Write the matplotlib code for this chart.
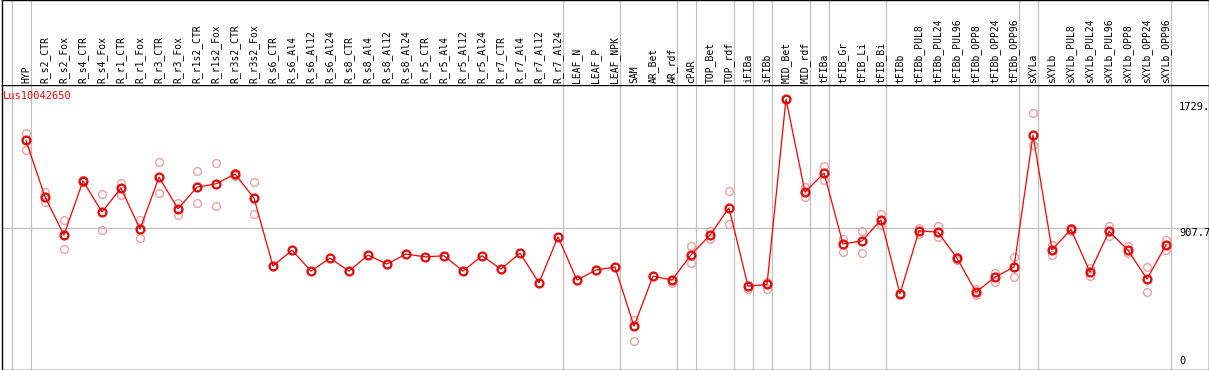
import matplotlib
matplotlib.use("Agg")
import matplotlib.pyplot as plt
import matplotlib.transforms as mtransforms
import numpy as np

# sample names, in plotting order
samples = [
    "HYP", "R_s2_CTR", "R_s2_Fox", "R_s4_CTR", "R_s4_Fox", "R_r1_CTR", "R_r1_Fox",
    "R_r3_CTR", "R_r3_Fox", "R_r1s2_CTR", "R_r1s2_Fox", "R_r3s2_CTR", "R_r3s2_Fox",
    "R_s6_CTR", "R_s6_Al4", "R_s6_Al12", "R_s6_Al24", "R_s8_CTR", "R_s8_Al4",
    "R_s8_Al12", "R_s8_Al24", "R_r5_CTR", "R_r5_Al4", "R_r5_Al12", "R_r5_Al24",
    "R_r7_CTR", "R_r7_Al4", "R_r7_Al12", "R_r7_Al24", "LEAF_N", "LEAF_P", "LEAF_NPK",
    "SAM", "AR_Bet", "AR_rdf", "cPAR", "TOP_Bet", "TOP_rdf", "iFIBa", "iFIBb",
    "MID_Bet", "MID_rdf", "tFIBa", "tFIB_Gr", "tFIB_Li", "tFIB_Bi", "tFIBb",
    "tFIBb_PUL8", "tFIBb_PUL24", "tFIBb_PUL96", "tFIBb_OPP8", "tFIBb_OPP24",
    "tFIBb_OPP96", "sXYLa", "sXYLb", "sXYLb_PUL8", "sXYLb_PUL24", "sXYLb_PUL96",
    "sXYLb_OPP8", "sXYLb_OPP24", "sXYLb_OPP96",
]

# number of samples in each group (grey separators between groups)
group_sizes = [1, 28, 3, 3, 1, 2, 1, 1, 2, 1, 3, 7, 1, 7]

# mean expression per sample
mean_values = [
    1465, 1105, 861, 1207, 1008, 1161, 899, 1231, 1029, 1167, 1188, 1250, 1097,
    663, 765, 631, 714, 631, 733, 676, 740, 722, 729, 631, 729, 644, 746, 556, 850,
    574, 638, 657, 280, 599, 574, 735, 861, 1035, 535, 546, 1729, 1135, 1257,
    805, 823, 959, 486, 888, 880, 714, 497, 593, 657, 1499, 767, 897, 625, 884,
    765, 580, 799,
]

nan = np.nan
# individual replicates (nan where none is shown)
rep1 = [
    1512, 1137, 957, 1212, 1123, 1195, 957, 1327, 1063, 1269, 1320, 1254, 1199,
    nan, nan, nan, nan, nan, nan, nan, nan, nan, nan, nan, nan, nan, nan, nan, nan,
    nan, nan, nan, 320, nan, 558, 793, 884, 1142, 520, 563, 1729, 1167, 1303,
    839, 886, 995, 490, 909, 916, 724, 518, 622, 722, 1639, 799, 909, 650, 922,
    793, 657, 829,
]
rep2 = [
    1405, 1069, 772, 1200, 893, 1118, 842, 1129, 992, 1065, 1046, 1235, 995,
    nan, nan, nan, nan, nan, nan, nan, nan, nan, nan, nan, nan, nan, nan, nan, nan,
    nan, nan, nan, 184, nan, 574, 682, 839, 929, 535, 516, 1729, 1103, 1214,
    756, 746, 925, 482, 865, 848, 703, 480, 563, 593, 1435, 731, 884, 601, 858,
    744, 499, 767,
]

gene = "Lus10042650"
mid_label = 907.7
max_label = "1729."

W, H = 1209, 370
fig = plt.figure(figsize=(W / 100, H / 100), dpi=100)

head = 85          # height of label band, px
x0, x1 = 1.5, 1208.5
xlim = ((x0 - 26) / 19, (x1 - 26) / 19)
ymax = (H - head) / 0.1567

ax = fig.add_axes([x0 / W, 0, (x1 - x0) / W, (H - head) / H])
top = fig.add_axes([x0 / W, (H - head) / H, (x1 - x0) / W, head / H])

for a in (ax, top):
    a.set_xlim(*xlim)
    a.set_xticks([])
    a.set_yticks([])
    for s in a.spines.values():
        s.set_color("black")
        s.set_linewidth(1.0)
top.set_ylim(0, 1)
top.spines["bottom"].set_visible(False)
ax.set_ylim(0, ymax)

x = np.arange(len(samples))

# group separators
bounds = np.concatenate([[-1], np.cumsum(group_sizes) - 1])
for b in bounds:
    for a in (ax, top):
        a.axvline(b + 0.25, color="#c0c0c0", lw=0.9, zorder=0)
ax.axhline(mid_label, color="#c0c0c0", lw=0.9, zorder=0)

# replicates, line, means
ax.plot(x, rep1, "o", ms=5.6, mfc="none", mec="#f0a0a0", mew=1.0, zorder=2)
ax.plot(x, rep2, "o", ms=5.6, mfc="none", mec="#f0a0a0", mew=1.0, zorder=2)
ax.plot(x, mean_values, "-", color="red", lw=0.9, zorder=3)
ax.plot(x, mean_values, "o", ms=6.0, mfc="none", mec="red", mew=1.3, zorder=4)
ax.plot(x, mean_values, "o", ms=4.6, mfc="none", mec="#700000", mew=0.4, zorder=5)

# sample labels
for xi, name in zip(x, samples):
    top.text(xi, 0.025, name, rotation=90, ha="center", va="bottom",
             family="DejaVu Sans Mono", fontsize=7, color="black")

ax.text(1.5 / (x1 - x0), 1 - 6 / (H - head), gene, transform=ax.transAxes,
        ha="left", va="top", family="DejaVu Sans Mono", fontsize=7.5, color="red")

tr = mtransforms.blended_transform_factory(ax.transAxes, ax.transData)
xr = (1179 - x0) / (x1 - x0)
ax.text(xr, 1729 - 20, max_label, transform=tr, ha="left", va="top",
        family="DejaVu Sans Mono", fontsize=7.5, clip_on=False)
ax.text(xr, mid_label, f"{mid_label}", transform=tr, ha="left", va="top",
        family="DejaVu Sans Mono", fontsize=7.5)
ax.text(xr, 25, "0", transform=tr, ha="left", va="bottom",
        family="DejaVu Sans Mono", fontsize=7.5)

fig.savefig("out.png", dpi=100)
